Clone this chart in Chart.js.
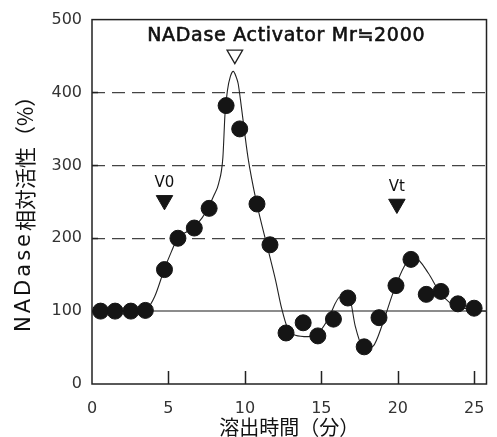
<!DOCTYPE html>
<html>
<head>
<meta charset="utf-8">
<script src="https://cdn.jsdelivr.net/npm/chart.js@4.4.0/dist/chart.umd.min.js"></script>
<style>
  html, body { margin: 0; padding: 0; background: #fff; }
  #wrap { width: 497px; height: 437px; }
</style>
</head>
<body>
<div id="wrap"><canvas id="nadaseChart"></canvas></div>
<script>
// Measured fractions (elution time in min, relative activity in %)
const fractionTimes = [0.56, 1.51, 2.54, 3.49, 4.74, 5.62, 6.69, 7.66, 8.77, 9.66, 10.79, 11.64, 12.69,
  13.81, 14.77, 15.79, 16.73, 17.80, 18.77, 19.88, 20.86, 21.86, 22.82, 23.93, 24.99];
const relActivity = [100, 100, 100, 101, 157, 200, 214, 241, 382, 350, 247, 191, 70,
  84, 66, 89, 118, 51, 91, 135, 171, 123, 127, 110, 104];

// Hand-drawn fit curve through the fractions
const curveTimes = [0, 3.2, 3.6, 4.1, 4.74, 5.2, 5.62, 6.2, 6.69, 7.2, 7.64, 8.0, 8.28, 8.56, 8.7, 8.86,
  9.05, 9.24, 9.45, 9.56, 9.77, 10.2, 10.73, 11.58, 12.0, 12.4, 12.8, 13.3, 14.13, 14.77, 15.41, 16.26,
  16.8, 17.22, 17.65, 17.95, 18.39, 19.03, 19.67, 20.41, 20.9, 21.16, 22.0, 22.65, 23.5, 24.35, 25.0, 25.8];
const curveValues = [100, 100, 103, 120, 158, 182, 201, 209, 216, 228, 244, 260, 275, 311, 371, 403,
  422, 429, 420, 412, 380, 311, 252, 179, 143, 104, 76, 67, 65, 69, 88, 120,
  120, 79, 52, 49, 52, 84, 124, 161, 172, 172, 152, 129, 110, 104, 101, 100];

// Markers: void volume, total volume, activator peak
const markerLabels = ['V0', 'Vt'];
const markerTimes = [4.74, 19.94];
const markerValues = [252, 247];
const peakTime = [9.34];
const peakValue = [452];

// Axis ticks and texts
const xTicks = [0, 5, 10, 15, 20, 25];
const yTicks = [0, 100, 200, 300, 400, 500];
const chartTitle = 'NADase Activator Mr≒2000';
const titleAt = [12.7, 477];
const xTitle = '溶出時間（分）';
const yTitleParts = ['NADase', '相対活性', '（%）'];

const toPoints = (xs, ys) => xs.map((x, i) => ({ x: x, y: ys[i] }));

// Frame, inward tick marks, and text annotations
const decorPlugin = {
  id: 'decor',
  beforeDatasetsDraw(chart) {
    const { ctx, chartArea: a, scales: { x, y } } = chart;
    ctx.save();
    ctx.strokeStyle = '#222';
    ctx.lineWidth = 1.5;
    ctx.strokeRect(a.left, a.top, a.right - a.left, a.bottom - a.top);
    ctx.beginPath();
    xTicks.slice(1).forEach(v => {
      const px = Math.round(x.getPixelForValue(v)) + 0.5;
      ctx.moveTo(px, a.bottom);
      ctx.lineTo(px, a.bottom - 13);
    });
    yTicks.slice(1, -1).forEach(v => {
      const py = Math.round(y.getPixelForValue(v)) + 0.5;
      ctx.moveTo(a.left, py);
      ctx.lineTo(a.left + 6, py);
    });
    ctx.stroke();
    ctx.restore();
  },
  afterDraw(chart) {
    const { ctx, chartArea: a, scales: { x, y } } = chart;
    ctx.save();
    ctx.fillStyle = '#111';
    ctx.strokeStyle = '#111';
    ctx.textAlign = 'center';
    ctx.textBaseline = 'middle';

    // title inside the plot (slightly heavier stroke like the print)
    ctx.font = '19px "DejaVu Sans", "Noto Sans CJK JP"';
    if ('letterSpacing' in ctx) ctx.letterSpacing = '0.7px';
    const tx = x.getPixelForValue(titleAt[0]);
    const ty = y.getPixelForValue(titleAt[1]);
    ctx.fillText(chartTitle, tx, ty);
    ctx.lineWidth = 0.6;
    ctx.strokeText(chartTitle, tx, ty);
    if ('letterSpacing' in ctx) ctx.letterSpacing = '0px';

    // V0 / Vt labels above the markers
    ctx.font = '15px "DejaVu Sans"';
    markerLabels.forEach((t, i) => {
      ctx.fillText(t, x.getPixelForValue(markerTimes[i]), y.getPixelForValue(markerValues[i]) - 17);
    });

    // rotated y-axis title
    const fonts = ['21px "DejaVu Sans"', '21px "Noto Sans CJK JP"', '21px "Noto Sans CJK JP"'];
    const spacing = [3, 0, 0];
    const widths = yTitleParts.map((t, i) => {
      ctx.font = fonts[i];
      return ctx.measureText(t).width + spacing[i] * t.length;
    });
    const total = widths.reduce((s, w) => s + w, 0);
    ctx.translate(25, (a.top + a.bottom) / 2 + 7);
    ctx.rotate(-Math.PI / 2);
    ctx.textAlign = 'left';
    let pos = -total / 2;
    yTitleParts.forEach((t, i) => {
      ctx.font = fonts[i];
      if ('letterSpacing' in ctx) ctx.letterSpacing = spacing[i] + 'px';
      ctx.fillText(t, pos, 0);
      pos += widths[i];
    });
    ctx.restore();
  }
};

new Chart(document.getElementById('nadaseChart'), {
  type: 'line',
  data: {
    datasets: [
      {
        label: 'fractions',
        data: toPoints(fractionTimes, relActivity),
        showLine: false,
        pointRadius: 8,
        pointBackgroundColor: '#151515',
        pointBorderColor: '#151515',
        pointBorderWidth: 1,
        clip: false,
        order: 1
      },
      {
        label: 'markers',
        data: toPoints(markerTimes, markerValues),
        showLine: false,
        pointStyle: 'triangle',
        rotation: 180,
        pointRadius: 9.5,
        pointBackgroundColor: '#151515',
        pointBorderColor: '#151515',
        pointBorderWidth: 1,
        order: 1
      },
      {
        label: 'activator peak',
        data: toPoints(peakTime, peakValue),
        showLine: false,
        pointStyle: 'triangle',
        rotation: 180,
        pointRadius: 9,
        pointBackgroundColor: '#ffffff',
        pointBorderColor: '#222',
        pointBorderWidth: 1.3,
        order: 1
      },
      {
        label: 'fit',
        data: toPoints(curveTimes, curveValues),
        borderColor: '#222',
        borderWidth: 1.1,
        pointRadius: 0,
        cubicInterpolationMode: 'monotone',
        fill: false,
        order: 2
      },
      {
        label: 'baseline',
        data: toPoints([0, 25.8], [100, 100]),
        borderColor: '#666',
        borderWidth: 1.5,
        pointRadius: 0,
        fill: false,
        order: 3
      }
    ]
  },
  plugins: [decorPlugin],
  options: {
    responsive: true,
    maintainAspectRatio: false,
    animation: false,
    layout: { padding: { top: 19, right: 1, left: 0, bottom: 0 } },
    plugins: {
      legend: { display: false },
      tooltip: { enabled: false },
      title: { display: false }
    },
    scales: {
      x: {
        type: 'linear',
        min: 0,
        max: 25.8,
        afterFit: s => { s.height = 53; },
        ticks: {
          stepSize: 5,
          includeBounds: false,
          padding: 7,
          color: '#333',
          font: { family: '"DejaVu Sans"', size: 16 }
        },
        grid: { display: false },
        border: { display: false },
        title: {
          display: true,
          text: xTitle,
          color: '#111',
          padding: 0,
          font: { family: '"Noto Sans CJK JP"', size: 20, lineHeight: 1 }
        }
      },
      y: {
        min: 0,
        max: 500,
        afterFit: s => { s.width = 92; },
        ticks: {
          stepSize: 100,
          padding: 10,
          color: '#333',
          font: { family: '"DejaVu Sans"', size: 16 }
        },
        grid: {
          drawTicks: false,
          color: c => (c.tick && c.tick.value > 100 && c.tick.value < 500) ? '#444' : 'transparent',
          lineWidth: 1.3
        },
        border: { display: false, dash: [13, 7] }
      }
    }
  }
});
</script>
</body>
</html>
